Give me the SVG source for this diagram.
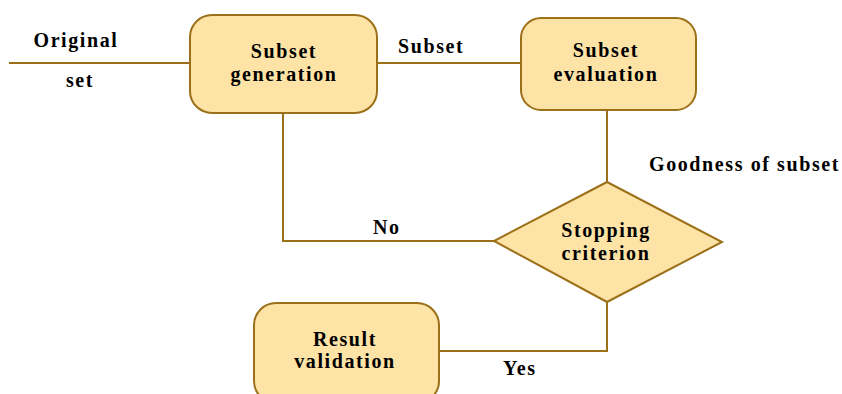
<svg xmlns="http://www.w3.org/2000/svg" width="842" height="394" viewBox="0 0 842 394">
<style>
.box{fill:#FEE3A6;stroke:#9B7019;stroke-width:2}
.ln{fill:none;stroke:#9B7019;stroke-width:2}
text{font-family:"Liberation Serif","Times New Roman",serif;font-weight:bold;font-size:20px;fill:#000;letter-spacing:1.6px}
.c{text-anchor:middle}
</style>
<rect width="842" height="394" fill="#fff"/>
<g id="connectors">
<line class="ln" x1="9" y1="63" x2="190" y2="63"/>
<line class="ln" x1="377" y1="63" x2="521" y2="63"/>
<line class="ln" x1="607" y1="110" x2="607" y2="182"/>
<polyline class="ln" points="494,241 283,241 283,113"/>
<polyline class="ln" points="607,302 607,351 439,351"/>
<text x="76" y="47" class="c">Original</text>
<text x="80" y="87" class="c">set</text>
<text x="398" y="53">Subset</text>
<text x="649" y="171">Goodness of subset</text>
<text x="373" y="234">No</text>
<text x="503" y="375">Yes</text>
</g>
<g id="subset-generation">
<rect class="box" x="190" y="15" width="187" height="98" rx="22"/>
<text x="284" y="58" class="c">Subset</text>
<text x="284" y="81" class="c">generation</text>
</g>
<g id="subset-evaluation">
<rect class="box" x="521" y="18" width="175" height="92" rx="20"/>
<text x="606" y="57" class="c">Subset</text>
<text x="606" y="81" class="c">evaluation</text>
</g>
<g id="stopping-criterion">
<polygon class="box" points="607,182 722,242 607,302 494,241"/>
<text x="606" y="237" class="c">Stopping</text>
<text x="606" y="260" class="c">criterion</text>
</g>
<g id="result-validation">
<rect class="box" x="254" y="303" width="185" height="100" rx="22"/>
<text x="345" y="346" class="c">Result</text>
<text x="345" y="368" class="c">validation</text>
</g>
</svg>
